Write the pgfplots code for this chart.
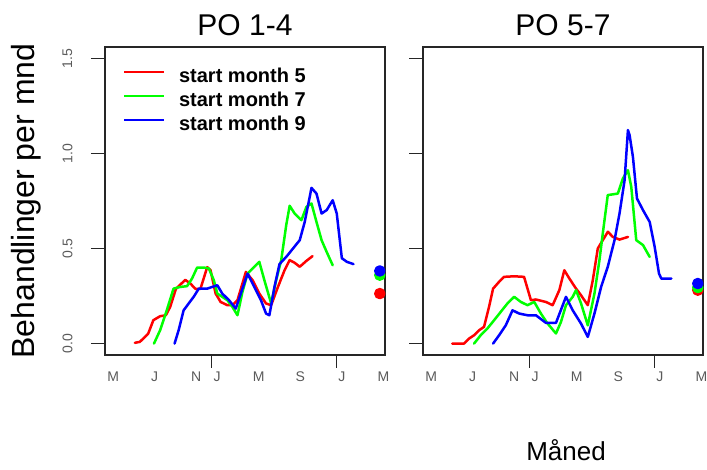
\documentclass[border=0pt]{standalone}
\usepackage{fontspec}
\setmainfont{Liberation Sans}
\usepackage{pgfplots}
\pgfplotsset{compat=1.18}
\definecolor{rred}{RGB}{255,0,0}
\definecolor{rgreen}{RGB}{0,255,0}
\definecolor{rblue}{RGB}{0,0,255}
\definecolor{ticklab}{RGB}{90,90,90}
\pgfplotsset{
  panel/.style={
    scale only axis, width=280pt, height=308pt,
    xmin=2.22, xmax=29.15, ymin=-0.06, ymax=1.56,
    axis line style={line width=1.2pt, black!85},
    xtick={3,7,11,13,17,21,25,29},
    xticklabels={M,J,N,J,M,S,J,M},
    major tick length=14pt,
    tick align=outside,
    xtick pos=bottom, ytick pos=left,
    xtick style={draw=none},
    extra x ticks={12.5,24.5},
    extra x tick labels={},
    extra x tick style={xtick style={draw=black!85, line width=1.2pt}, major tick length=13pt},
    xticklabel style={font=\fontsize{14}{16}\selectfont, text=ticklab, anchor=base, yshift=-12.5pt},
    ytick={0,0.5,1,1.5},
    yticklabels={0.0,0.5,1.0,1.5},
    ytick style={line width=1.2pt, black!85},
    clip=false,
    title style={font=\fontsize{30}{34}\selectfont, at={(axis description cs:0.5,1)}, anchor=base, yshift=5.3pt},
    every axis plot/.append style={line width=2.5pt, line join=round, line cap=round},
  }
}
\begin{document}
\begin{tikzpicture}[x=1pt,y=1pt]
\useasboundingbox (0,0) rectangle (707,470);
% ---------------- Panel 1 ----------------
\begin{axis}[panel, at={(105pt,115pt)}, anchor=south west,
  title={PO 1-4},
  yticklabel style={font=\fontsize{14}{16}\selectfont, text=ticklab, rotate=90, anchor=center, yshift=23.5pt, inner sep=0pt},
  ylabel={Behandlinger per mnd},
  ylabel style={font=\fontsize{32}{36}\selectfont, at={(axis description cs:0,0.5)}, anchor=base, yshift=70pt},
  legend style={at={(axis description cs:0,1)}, anchor=north west, xshift=18pt, yshift=-21pt,
    draw=none, fill=none, inner sep=0pt, row sep=9.5pt, column sep=0pt,
    font=\bfseries\fontsize{20}{22}\selectfont,
    nodes={inner sep=0pt, text depth=0pt}},
  legend cell align=left,
  legend image code/.code={\draw[#1, line width=1.8pt, line cap=butt] (0pt,3.3pt) -- (40pt,3.3pt); \path[draw=none] (0pt,0pt) -- (55pt,0pt);},
]
\addplot[rred] coordinates {(5.09,0.004)(5.57,0.009)(6.06,0.035)(6.38,0.053)(6.87,0.123)(7.52,0.144)(8.07,0.149)(8.49,0.193)(9.04,0.288)(9.94,0.335)(10.43,0.316)(10.91,0.288)(11.40,0.288)(12.05,0.402)(12.37,0.386)(12.86,0.263)(13.34,0.219)(13.99,0.202)(14.47,0.202)(14.96,0.228)(15.77,0.377)(16.42,0.333)(17.06,0.263)(17.71,0.211)(18.20,0.202)(18.84,0.296)(19.49,0.386)(19.98,0.439)(20.46,0.425)(20.95,0.404)(21.59,0.435)(22.18,0.460)};
\addlegendentry{start month 5}
\addplot[rgreen] coordinates {(6.93,0.0)(7.52,0.070)(8.16,0.175)(8.81,0.289)(9.46,0.298)(10.11,0.302)(10.59,0.342)(11.08,0.400)(11.72,0.400)(12.21,0.395)(12.69,0.333)(13.02,0.263)(13.50,0.246)(13.99,0.228)(14.47,0.193)(14.96,0.149)(15.44,0.272)(15.93,0.368)(16.58,0.404)(17.06,0.430)(17.55,0.333)(18.20,0.211)(18.68,0.333)(19.17,0.439)(19.65,0.623)(19.98,0.725)(20.46,0.684)(21.11,0.649)(21.59,0.719)(22.08,0.737)(22.56,0.640)(23.05,0.544)(23.54,0.482)(24.12,0.412)};
\addlegendentry{start month 7}
\addplot[rblue] coordinates {(8.91,0.0)(9.30,0.070)(9.78,0.175)(10.27,0.211)(10.75,0.246)(11.24,0.289)(12.05,0.289)(12.53,0.298)(13.02,0.307)(13.50,0.263)(14.15,0.228)(14.80,0.184)(15.28,0.263)(15.93,0.368)(16.58,0.298)(17.22,0.228)(17.71,0.158)(18.03,0.149)(18.52,0.298)(19.00,0.418)(19.65,0.456)(20.30,0.500)(20.95,0.544)(21.43,0.640)(22.08,0.819)(22.56,0.789)(23.05,0.684)(23.54,0.702)(24.12,0.754)(24.51,0.684)(25.00,0.449)(25.48,0.430)(26.12,0.418)};
\addlegendentry{start month 9}
\addplot[only marks, mark=*, mark size=4.5pt, rred, forget plot] coordinates {(28.65,0.263)};
\addplot[only marks, mark=*, mark size=4.5pt, rgreen, forget plot] coordinates {(28.65,0.360)};
\addplot[only marks, mark=*, mark size=4.5pt, rblue, forget plot] coordinates {(28.65,0.382)};
\end{axis}
% ---------------- Panel 2 ----------------
\begin{axis}[panel, at={(423pt,115pt)}, anchor=south west,
  title={PO 5-7},
  yticklabels={},
  xlabel={Måned},
  xlabel style={font=\fontsize{26}{30}\selectfont, at={(axis description cs:0.5,0)}, anchor=base, yshift=-106pt, xshift=3pt},
]
\addplot[rred] coordinates {(5.04,0.0)(6.16,0.0)(6.64,0.026)(7.13,0.044)(7.61,0.070)(8.09,0.088)(8.57,0.193)(8.96,0.289)(9.54,0.325)(10.02,0.351)(10.99,0.354)(11.94,0.351)(12.60,0.228)(13.08,0.232)(14.04,0.219)(14.69,0.202)(15.33,0.281)(15.81,0.386)(16.30,0.342)(16.94,0.289)(17.42,0.254)(18.07,0.202)(18.55,0.333)(19.03,0.500)(19.51,0.544)(20.00,0.588)(20.48,0.561)(21.12,0.547)(21.93,0.561)};
\addplot[rgreen] coordinates {(7.13,0.0)(7.77,0.044)(8.41,0.079)(9.06,0.123)(9.70,0.167)(10.34,0.211)(10.99,0.246)(11.63,0.219)(12.27,0.202)(12.92,0.219)(13.56,0.158)(14.21,0.105)(15.01,0.053)(15.49,0.114)(15.97,0.202)(16.62,0.246)(16.94,0.281)(17.42,0.211)(18.07,0.096)(18.71,0.263)(19.19,0.439)(19.51,0.579)(19.99,0.781)(20.96,0.789)(21.44,0.868)(21.93,0.912)(22.25,0.825)(22.73,0.544)(23.38,0.518)(24.02,0.456)};
\addplot[rblue] coordinates {(8.96,0.0)(9.54,0.044)(10.18,0.096)(10.83,0.175)(11.47,0.158)(12.27,0.149)(13.08,0.149)(14.04,0.109)(15.01,0.109)(15.97,0.246)(16.62,0.175)(17.42,0.105)(18.07,0.035)(18.71,0.158)(19.35,0.298)(19.99,0.404)(20.64,0.544)(21.12,0.684)(21.61,0.860)(21.93,1.123)(22.09,1.096)(22.41,0.982)(22.80,0.763)(23.38,0.702)(24.02,0.640)(24.50,0.509)(24.92,0.368)(25.14,0.342)(26.11,0.342)};
\addplot[only marks, mark=*, mark size=4.5pt, rred] coordinates {(28.65,0.281)};
\addplot[only marks, mark=*, mark size=4.5pt, rgreen] coordinates {(28.65,0.295)};
\addplot[only marks, mark=*, mark size=4.5pt, rblue] coordinates {(28.65,0.316)};
\end{axis}
\end{tikzpicture}
\end{document}
